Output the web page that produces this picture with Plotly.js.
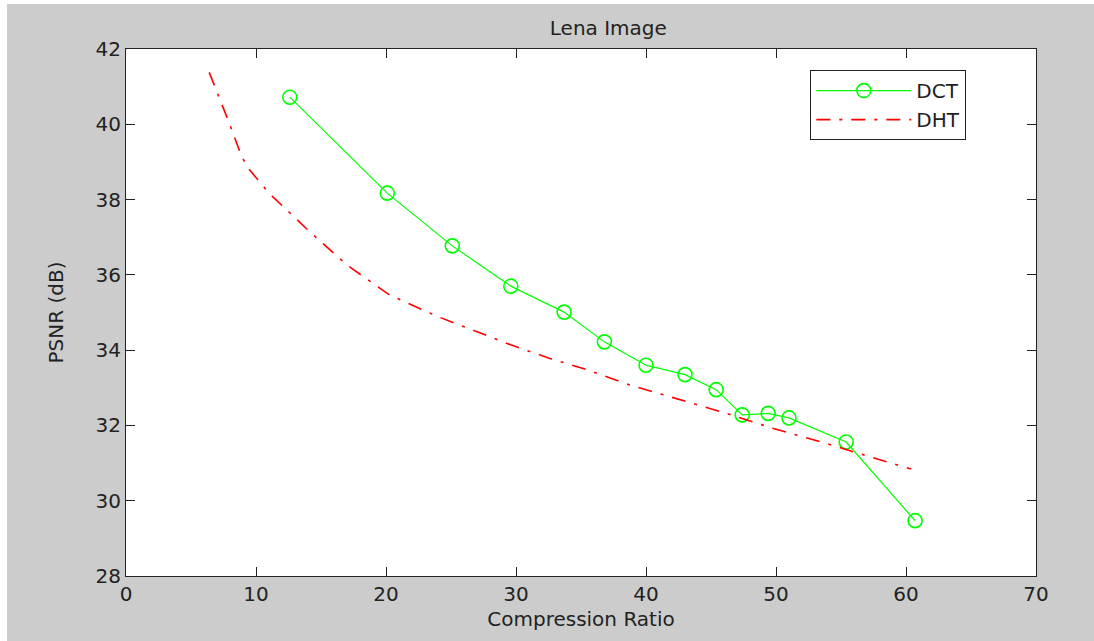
<!DOCTYPE html>
<html>
<head>
<meta charset="utf-8">
<script src="https://cdn.plot.ly/plotly-3.0.1.min.js"></script>
<style>
  html, body { margin: 0; padding: 0; background: #ffffff; }
  #chart { width: 1094px; height: 641px; }
</style>
</head>
<body>
<div id="chart"></div>
<script>
// Compression ratio vs PSNR (dB) — Lena Image
const dctX = [12.6, 20.1, 25.1, 29.6, 33.7, 36.8, 40.0, 43.0, 45.4, 47.4, 49.4, 51.0, 55.4, 60.7];
const dctY = [40.72, 38.17, 36.77, 35.70, 35.01, 34.22, 33.60, 33.35, 32.95, 32.28, 32.32, 32.20, 31.56, 29.47];

const dhtX = [6.4, 7.9, 8.9, 9.5, 11.0, 14.0, 17.0, 20.3, 24.0, 29.6, 32.6, 35.1, 38.8, 42.2, 46.2, 49.8, 53.4, 57.2, 60.4];
const dhtY = [41.38, 40.07, 39.14, 38.79, 38.17, 37.19, 36.26, 35.46, 34.89, 34.14, 33.78, 33.52, 33.07, 32.72, 32.32, 31.92, 31.57, 31.17, 30.84];

const xTicks = [0, 10, 20, 30, 40, 50, 60, 70];
const yTicks = [28, 30, 32, 34, 36, 38, 40, 42];

const FONT = "DejaVu Sans, Liberation Sans, Arial, sans-serif";
const TXT = "#222222";

const traces = [
  {
    x: dctX, y: dctY, name: "DCT", type: "scatter", mode: "lines+markers",
    line: { color: "#00ff00", width: 1.2 },
    marker: { symbol: "circle-open", size: 14, color: "#00ff00", line: { width: 1.6, color: "#00ff00" } }
  },
  {
    x: dhtX, y: dhtY, name: "DHT", type: "scatter", mode: "lines",
    line: { color: "#ff0000", width: 1.6, dash: "14px,9px,3px,9px" }
  }
];

const axisCommon = {
  showgrid: false, zeroline: false,
  showline: true, linecolor: "#222222", linewidth: 1,
  mirror: "ticks", ticks: "inside", ticklen: 9, tickwidth: 1, tickcolor: "#222222",
  tickfont: { family: FONT, size: 20, color: TXT },
  automargin: false
};

const layout = {
  width: 1094, height: 641,
  paper_bgcolor: "#cccccc", plot_bgcolor: "#ffffff",
  margin: { l: 126, r: 58, t: 49, b: 65, pad: 0 },
  title: {
    text: "Lena Image", font: { family: FONT, size: 20, color: TXT },
    x: 0.53, xanchor: "center", xref: "paper",
    y: 0.956, yanchor: "middle", yref: "container"
  },
  xaxis: Object.assign({}, axisCommon, {
    range: [0, 70], tickvals: xTicks, ticktext: xTicks.map(String),
    title: { text: "Compression Ratio", font: { family: FONT, size: 20, color: TXT }, standoff: 6 }
  }),
  yaxis: Object.assign({}, axisCommon, {
    range: [28, 42], tickvals: yTicks, ticktext: yTicks.map(String),
    title: { text: "PSNR (dB)", font: { family: FONT, size: 20, color: TXT }, standoff: 26 }
  }),
  showlegend: true,
  legend: {
    x: 0.752, y: 0.96, xanchor: "left", yanchor: "top",
    bgcolor: "#ffffff", bordercolor: "#222222", borderwidth: 1,
    font: { family: FONT, size: 20, color: TXT },
    itemwidth: 95
  },
  shapes: [
    { type: "rect", xref: "paper", yref: "paper", x0: -0.14, x1: (7 - 126) / 910, y0: -0.13, y1: 1.1,
      fillcolor: "#ffffff", line: { width: 0 }, layer: "above" },
    { type: "rect", xref: "paper", yref: "paper", x0: -0.14, x1: 1.07, y0: (576 - 4) / 527, y1: 1.1,
      fillcolor: "#ffffff", line: { width: 0 }, layer: "above" }
  ]
};

Plotly.newPlot("chart", traces, layout, { displayModeBar: false, staticPlot: true });
</script>
</body>
</html>
